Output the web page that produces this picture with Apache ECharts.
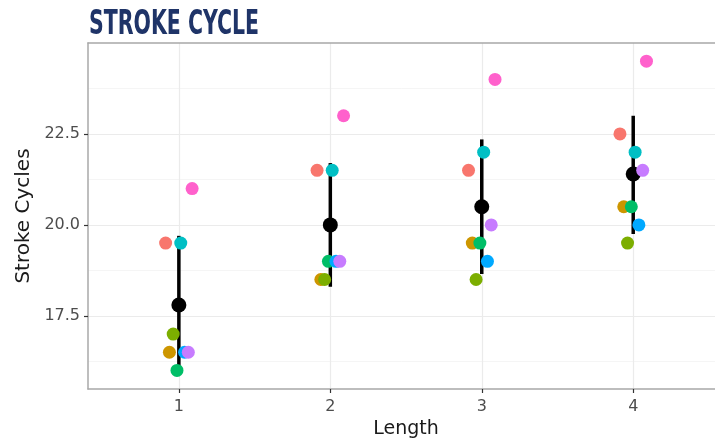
<!DOCTYPE html>
<html><head><meta charset="utf-8">
<script src="https://cdn.jsdelivr.net/npm/echarts@6/dist/echarts.min.js"></script>
<style>html,body{margin:0;padding:0;background:#fff;overflow:hidden}#c{width:715px;height:444px}</style>
</head><body><div id="c"></div>
<script>
// ---- data ----
const lengths = [1, 2, 3, 4];
const groupNames = ['S1', 'S2', 'S3', 'S4', 'S5', 'S6', 'S7', 'S8'];
const groupColors = ['#F8766D', '#CD9600', '#7CAE00', '#00BE67', '#00BFC4', '#00A9FF', '#C77CFF', '#FF61CC'];
const s1 = [19.5, 21.5, 21.5, 22.5];
const s2 = [16.5, 18.5, 19.5, 20.5];
const s3 = [17.0, 18.5, 18.5, 19.5];
const s4 = [16.0, 19.0, 19.5, 20.5];
const s5 = [19.5, 21.5, 22.0, 22.0];
const s6 = [16.5, 19.0, 19.0, 20.0];
const s7 = [16.5, 19.0, 20.0, 21.5];
const s8 = [21.0, 23.0, 24.0, 24.5];
const meanVals = [17.8, 20.0, 20.5, 21.4];
const lowVals = [15.9, 18.3, 18.65, 19.75];
const highVals = [19.7, 21.7, 22.35, 23.0];
const xTicks = [1, 2, 3, 4];
const yTicks = [17.5, 20.0, 22.5];
const yMinorTicks = [16.25, 18.75, 21.25, 23.75];

const groupValues = [s1, s2, s3, s4, s5, s6, s7, s8];
const dodgeStep = 0.025;
const X_MIN = 0.4, X_MAX = 4.54, Y_MIN = 15.49, Y_MAX = 25.0;

const chart = echarts.init(document.getElementById('c'), null, {renderer: 'canvas'});
const labelFont = '"DejaVu Sans", sans-serif';
const borderStyle = {color: '#a8a8a8', width: 1.5};

const series = [];
series.push({
  type: 'custom',
  name: 'range',
  z: 2,
  encode: {x: 0, y: [1, 2]},
  data: lengths.map((l, i) => [l, lowVals[i], highVals[i]]),
  renderItem: function (params, api) {
    const x = api.value(0);
    const p1 = api.coord([x, api.value(1)]);
    const p2 = api.coord([x, api.value(2)]);
    return {type: 'line', shape: {x1: p1[0], y1: p1[1], x2: p2[0], y2: p2[1]},
            style: {stroke: '#000', lineWidth: 3.5}};
  }
});
series.push({
  type: 'scatter', name: 'mean', z: 3, symbolSize: 15,
  itemStyle: {color: '#000', opacity: 1},
  data: lengths.map((l, i) => [l, meanVals[i]])
});
groupValues.forEach((vals, g) => {
  const off = (g - 3.5) * dodgeStep;
  series.push({
    type: 'scatter', name: groupNames[g], z: 4, symbolSize: 13,
    itemStyle: {color: groupColors[g], opacity: 1},
    data: lengths.map((l, i) => [l + off, vals[i]])
  });
});

chart.setOption({
  animation: false,
  backgroundColor: '#fff',
  grid: {left: 88, top: 43, right: 0, bottom: 55, show: false},
  graphic: [{
    type: 'text', x: 89, y: 9, scaleX: 0.69,
    style: {text: 'STROKE CYCLE', fontSize: 33, fontWeight: 'bold',
            fontFamily: '"Liberation Sans Narrow", "DejaVu Sans Condensed", sans-serif',
            fill: '#1f3468', verticalAlign: 'top'}
  }],
  xAxis: [{
    type: 'value', min: X_MIN, max: X_MAX, position: 'bottom',
    name: 'Length', nameLocation: 'middle', nameGap: 23,
    nameTextStyle: {fontFamily: labelFont, fontSize: 19, color: '#1a1a1a', padding: [0, 0, 0, 9]},
    axisLine: {show: true, lineStyle: borderStyle},
    axisTick: {show: true, length: 4, customValues: xTicks, lineStyle: {color: '#333', width: 1.2}},
    axisLabel: {customValues: xTicks, margin: 10, fontFamily: labelFont, fontSize: 16, color: '#4d4d4d'},
    splitLine: {show: true, lineStyle: {color: '#ebebeb', width: 1.2}}
  }, {
    type: 'value', min: X_MIN, max: X_MAX, position: 'top',
    axisLine: {show: true, lineStyle: borderStyle},
    axisTick: {show: false}, axisLabel: {show: false}, splitLine: {show: false}
  }],
  yAxis: [{
    type: 'value', min: Y_MIN, max: Y_MAX,
    name: 'Stroke Cycles', nameLocation: 'middle', nameGap: 48,
    nameTextStyle: {fontFamily: labelFont, fontSize: 20, color: '#1a1a1a'},
    axisLine: {show: true, lineStyle: borderStyle},
    axisTick: {show: true, length: 4, customValues: yTicks, lineStyle: {color: '#333', width: 1.2}},
    axisLabel: {customValues: yTicks, margin: 8, fontFamily: labelFont, fontSize: 16, color: '#4d4d4d',
                formatter: v => v.toFixed(1)},
    splitLine: {show: true, lineStyle: {color: '#ebebeb', width: 1.2}}
  }, {
    type: 'value', min: Y_MIN, max: Y_MAX, position: 'left',
    axisLine: {show: false},
    axisTick: {show: false, customValues: yMinorTicks},
    axisLabel: {show: false, customValues: yMinorTicks},
    splitLine: {show: true, lineStyle: {color: '#f3f3f3', width: 0.8}}
  }],
  series: series
});
</script></body></html>
